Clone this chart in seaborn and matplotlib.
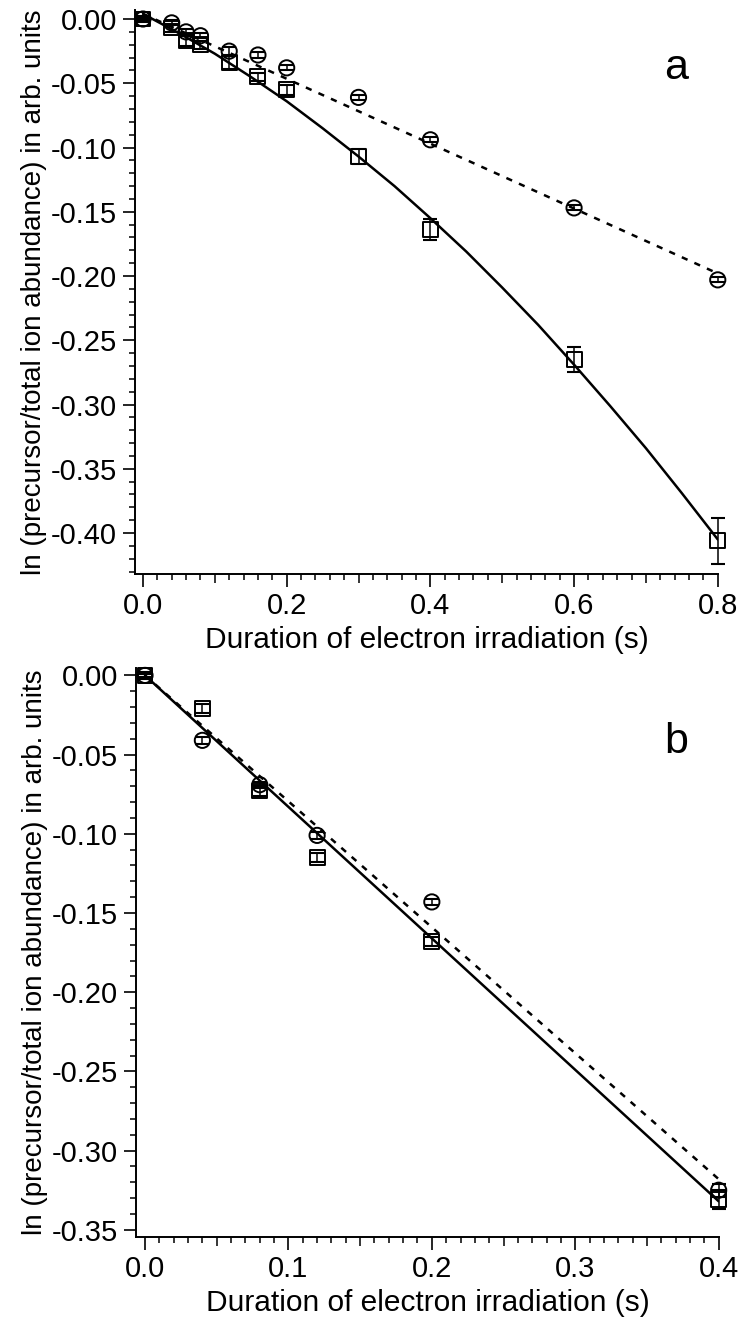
import numpy as np
import seaborn as sns
import matplotlib
matplotlib.use('Agg')
import matplotlib.pyplot as plt
from matplotlib.ticker import MultipleLocator

# panel a: measured points (squares = solid fit, circles = dashed fit)
time_a = [0.0, 0.04, 0.06, 0.08, 0.12, 0.16, 0.20, 0.30, 0.40, 0.60, 0.80]
sq_a = [0.000, -0.007, -0.017, -0.020, -0.034, -0.045, -0.055, -0.107, -0.164, -0.265, -0.406]
sq_a_err = [0.002, 0.003, 0.004, 0.003, 0.005, 0.003, 0.004, 0.006, 0.008, 0.010, 0.018]
ci_a = [0.000, -0.003, -0.010, -0.013, -0.025, -0.028, -0.038, -0.061, -0.094, -0.147, -0.203]
ci_a_err = [0.001, 0.002, 0.002, 0.002, 0.003, 0.002, 0.002, 0.002, 0.002, 0.002, 0.002]

# fitted curves
fit_a_x = [0.0, 0.05, 0.1, 0.15, 0.2, 0.25, 0.3, 0.35, 0.4,
           0.45, 0.5, 0.55, 0.6, 0.65, 0.7, 0.75, 0.8]
fit_a_y = [0.004, -0.011, -0.027, -0.045, -0.064, -0.085, -0.107, -0.130, -0.155,
           -0.181, -0.209, -0.238, -0.269, -0.301, -0.334, -0.369, -0.405]
dash_a_x = [0.0, 0.8]
dash_a_y = [0.004, -0.198]

# panel b
time_b = [0.0, 0.04, 0.08, 0.12, 0.20, 0.40]
sq_b = [0.000, -0.021, -0.073, -0.115, -0.168, -0.331]
sq_b_err = [0.002, 0.003, 0.003, 0.003, 0.003, 0.006]
ci_b = [0.000, -0.041, -0.069, -0.101, -0.143, -0.325]
ci_b_err = [0.001, 0.002, 0.002, 0.002, 0.002, 0.004]

fit_b_x = [0.0, 0.4]
fit_b_y = [0.000, -0.332]
dash_b_x = [0.0, 0.4]
dash_b_y = [0.000, -0.318]

sns.set_style('ticks')
plt.rcParams['font.family'] = ['Liberation Sans', 'DejaVu Sans']
plt.rcParams['axes.unicode_minus'] = False
plt.rcParams['text.color'] = 'black'

fig = plt.figure(figsize=(7.5, 13.18), dpi=100)
ax_a = fig.add_axes([0.180, 0.5645, 0.7773, 0.4279])
ax_b = fig.add_axes([0.1813, 0.0615, 0.7773, 0.4317])

ylab = 'ln (precursor/total ion abundance) in arb. units'
xlab = 'Duration of electron irradiation (s)'


def draw_panel(ax, t, sq, sq_err, ci, ci_err, fx, fy, dx, dy):
    sns.lineplot(x=fx, y=fy, color='black', lw=1.8, ax=ax)
    sns.lineplot(x=dx, y=dy, color='black', lw=1.8, ls=(0, (2.5, 3)), ax=ax)
    sns.scatterplot(x=t, y=sq, marker='s', s=115, facecolor='none',
                    edgecolor='black', linewidth=1.4, ax=ax, zorder=3, clip_on=False)
    sns.scatterplot(x=t, y=ci, marker='o', s=120, facecolor='none',
                    edgecolor='black', linewidth=1.4, ax=ax, zorder=3, clip_on=False)
    for y, err in ((sq, sq_err), (ci, ci_err)):
        eb = ax.errorbar(t, y, yerr=err, fmt='none', ecolor='black', elinewidth=1.1,
                         capsize=5.2, capthick=1.5, zorder=4)
        for part in eb.lines[1] + eb.lines[2]:
            part.set_clip_on(False)


draw_panel(ax_a, time_a, sq_a, sq_a_err, ci_a, ci_a_err,
           fit_a_x, fit_a_y, dash_a_x, dash_a_y)
draw_panel(ax_b, time_b, sq_b, sq_b_err, ci_b, ci_b_err,
           fit_b_x, fit_b_y, dash_b_x, dash_b_y)

ax_a.set_xlim(-0.0111, 0.8003)
ax_a.set_ylim(-0.4319, 0.007)
ax_b.set_xlim(-0.0063, 0.4002)
ax_b.set_ylim(-0.3545, 0.0047)

ax_a.xaxis.set_major_locator(MultipleLocator(0.2))
ax_a.xaxis.set_minor_locator(MultipleLocator(0.02))
ax_b.xaxis.set_major_locator(MultipleLocator(0.1))
ax_b.xaxis.set_minor_locator(MultipleLocator(0.01))
for ax in (ax_a, ax_b):
    ax.yaxis.set_major_locator(MultipleLocator(0.05))
    ax.yaxis.set_minor_locator(MultipleLocator(0.01))
    ax.xaxis.set_major_formatter('{x:.1f}')
    ax.yaxis.set_major_formatter('{x:.2f}')
    sns.despine(ax=ax)
    for side in ('left', 'bottom'):
        ax.spines[side].set_linewidth(1.4)
        ax.spines[side].set_color('black')
    ax.tick_params(which='major', direction='out', length=9, width=1.2,
                   color='black', labelsize=21, pad=4, labelcolor='black')
    ax.tick_params(which='minor', direction='out', length=4.3, width=1.1,
                   color='black')
    ax.set_xlabel(xlab, fontsize=21.5, labelpad=4, color='black')
    ax.set_ylabel(ylab, fontsize=20, labelpad=3, color='black')

# medium ticks half way between the labelled ones
for ax, step in ((ax_a, 0.1), (ax_b, 0.05)):
    locs = ax.xaxis.get_minorticklocs()
    ticks = ax.xaxis.get_minor_ticks(len(locs))
    for loc, tk in zip(locs, ticks):
        r = loc / step
        if abs(r - round(r)) < 1e-6 and round(r) % 2 == 1:
            tk.tick1line.set_markersize(6.5)

ax_a.text(0.726, -0.038, 'a', fontsize=31, ha='left', va='center', color='black')
ax_b.text(0.362, -0.042, 'b', fontsize=31, ha='left', va='center', color='black')

fig.savefig('out.png', dpi=100)
